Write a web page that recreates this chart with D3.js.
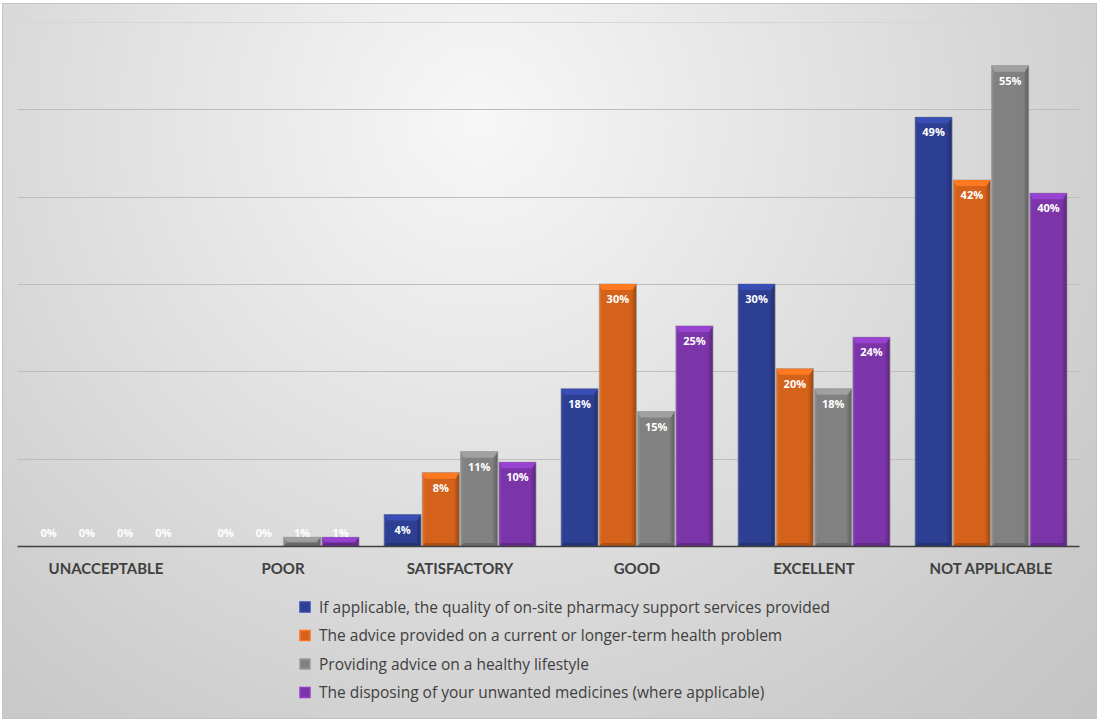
<!DOCTYPE html>
<html><head><meta charset="utf-8">
<script src="https://cdn.jsdelivr.net/npm/d3@7"></script>
<style>html,body{margin:0;padding:0;background:#fff;}svg{display:block;}</style>
</head><body>
<svg id="chart" width="1106" height="722"></svg>
<script>
const categories = ["UNACCEPTABLE","POOR","SATISFACTORY","GOOD","EXCELLENT","NOT APPLICABLE"];
const seriesNames = [
  "If applicable, the quality of on-site pharmacy support services provided",
  "The advice provided on a current or longer-term health problem",
  "Providing advice on a healthy lifestyle",
  "The disposing of your unwanted medicines (where applicable)"
];
const seriesValues = [
  [0, 0, 3.6, 18.0, 30.0, 49.1],
  [0, 0, 8.4, 30.0, 20.3, 41.9],
  [0, 1, 10.8, 15.4, 18.0, 55.0],
  [0, 1, 9.6, 25.2, 23.9, 40.4]
];
const yTicks = [10, 20, 30, 40, 50, 60];
const colors = ["#2d3f92", "#d4621a", "#818181", "#7b35a9"];

const svg = d3.select("#chart");
const defs = svg.append("defs");

// background
const bg = defs.append("radialGradient").attr("id","bg").attr("gradientUnits","userSpaceOnUse")
  .attr("cx",480).attr("cy",120).attr("r",880);
[[0,"#f7f7f7"],[0.5,"#dcdcdc"],[0.8,"#cbcbcb"],[1,"#c3c3c3"]].forEach(s=>bg.append("stop").attr("offset",s[0]).attr("stop-color",s[1]));
svg.append("rect").attr("x",2.5).attr("y",3.5).attr("width",1094).attr("height",715)
  .attr("fill","url(#bg)").attr("stroke","#c4c4c4").attr("stroke-width",1);

const x0 = d3.scaleBand().domain(categories).range([17.5,1079.5]).paddingInner(0.141).paddingOuter(0.0705);
const x1 = d3.scaleBand().domain(d3.range(seriesNames.length)).range([0, x0.bandwidth()]).paddingInner(0.03);
const y = d3.scaleLinear().domain([0,60]).range([546,22]);

// gridlines
svg.append("g").selectAll("line").data(yTicks).join("line")
  .attr("x1",17.5).attr("x2",1079.5)
  .attr("y1",d=>Math.round(y(d))+0.5).attr("y2",d=>Math.round(y(d))+0.5)
  .attr("stroke",d=>d===60?"#d6d6d6":"#bdbdbd").attr("stroke-width",1);

// gradients per series for bevel look
colors.forEach((c,i)=>{
  const g = defs.append("linearGradient").attr("id","body"+i).attr("x1",0).attr("x2",1).attr("y1",0).attr("y2",0);
  const lc = d3.color(c).brighter(0.35), dc = d3.color(c).darker(0.9), dk=d3.color(c).darker(0.3);
  [[0,lc],[0.08,c],[0.85,c],[0.9,dk],[1,dc]].forEach(s=>g.append("stop").attr("offset",s[0]).attr("stop-color",s[1]));
});

const barsData = [];
categories.forEach((cat,ci)=>{
  seriesValues.forEach((vals,si)=>{
    barsData.push({cat, si, v: vals[ci]});
  });
});

const gBars = svg.append("g");
barsData.forEach(d=>{
  const bx = x0(d.cat) + x1(d.si);
  const bw = x1.bandwidth();
  const top = y(d.v), base = y(0);
  const h = base - top;
  const g = gBars.append("g");
  if (h > 0) {
    g.append("rect").attr("x",bx).attr("y",top).attr("width",bw).attr("height",h)
      .attr("fill","url(#body"+d.si+")").attr("stroke","rgba(150,150,150,0.7)").attr("stroke-width",1);
    const bev = Math.min(6, h/2);
    const c = d3.color(colors[d.si]);
    g.append("path").attr("d",`M${bx},${top}L${bx+bw},${top}L${bx+bw-4},${top+bev}L${bx+3},${top+bev}Z`)
      .attr("fill", c.brighter(0.6));
    g.append("path").attr("d",`M${bx},${base}L${bx+bw},${base}L${bx+bw-4},${base-Math.min(3,h/2)}L${bx+3},${base-Math.min(3,h/2)}Z`)
      .attr("fill", c.darker(0.6));
  }
  g.append("text").attr("x",bx+bw/2).attr("y",Math.min(top+19,537))
    .attr("text-anchor","middle").attr("fill","#ffffff")
    .attr("font-family","'Open Sans', sans-serif").attr("font-weight","bold").attr("font-size","11px")
    .text(Math.round(d.v)+"%");
});

// axis line
svg.append("line").attr("x1",17.5).attr("x2",1079.5).attr("y1",546.5).attr("y2",546.5)
  .attr("stroke","#404040").attr("stroke-width",1.5);

// category labels
svg.append("g").selectAll("text").data(categories).join("text")
  .attr("x",d=>x0(d)+x0.bandwidth()/2).attr("y",574)
  .attr("text-anchor","middle").attr("fill","#404040")
  .attr("font-family","Lato, 'Open Sans', sans-serif").attr("font-weight","bold").attr("font-size","15px")
  .text(d=>d);

// legend
const leg = svg.append("g");
seriesNames.forEach((n,i)=>{
  const ly = 607 + i*28.5;
  const c = d3.color(colors[i]);
  leg.append("rect").attr("x",300).attr("y",ly-5).attr("width",10).attr("height",10)
    .attr("fill",colors[i]).attr("stroke",c.brighter(0.5)).attr("stroke-width",1.5);
  leg.append("text").attr("x",319).attr("y",ly+5.5).attr("fill","#404040")
    .attr("font-family","'Open Sans', sans-serif").attr("font-size","15.5px")
    .text(n);
});
</script>
</body></html>
